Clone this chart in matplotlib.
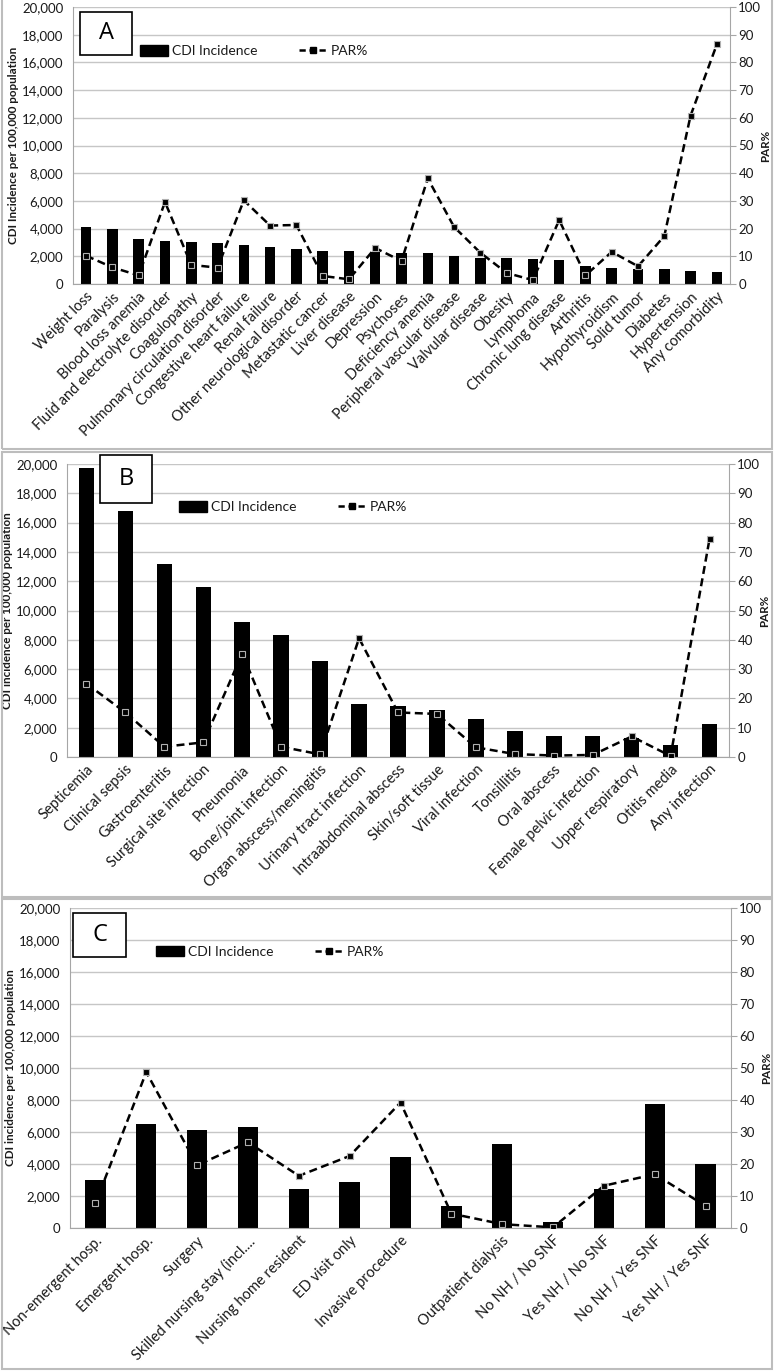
import matplotlib
matplotlib.use('Agg')
import matplotlib.pyplot as plt
from matplotlib.patches import Rectangle
from matplotlib.lines import Line2D
from matplotlib.ticker import FuncFormatter, MultipleLocator

plt.rcParams['font.family'] = ['Lato', 'DejaVu Sans']

# panel A: comorbidities
a_cats = ['Weight loss', 'Paralysis', 'Blood loss anemia', 'Fluid and electrolyte disorder',
          'Coagulopathy', 'Pulmonary circulation disorder', 'Congestive heart failure',
          'Renal failure', 'Other neurological disorder', 'Metastatic cancer', 'Liver disease',
          'Depression', 'Psychoses', 'Deficiency anemia', 'Peripheral vascular disease',
          'Valvular disease', 'Obesity', 'Lymphoma', 'Chronic lung disease', 'Arthritis',
          'Hypothyroidism', 'Solid tumor', 'Diabetes', 'Hypertension', 'Any comorbidity']
a_inc = [4100, 4000, 3250, 3100, 3000, 2950, 2800, 2700, 2500, 2350, 2350,
         2300, 2250, 2250, 2000, 1900, 1850, 1800, 1700, 1300, 1150, 1100, 1050, 950, 850]
a_par = [10.2, 6.0, 3.1, 29.6, 6.9, 5.9, 30.2, 21.1, 21.3, 2.9, 1.7,
         13.0, 8.3, 38.1, 20.6, 11.3, 4.0, 1.4, 23.1, 3.1, 11.6, 6.4, 17.3, 60.8, 86.5]

# panel B: infections
b_cats = ['Septicemia', 'Clinical sepsis', 'Gastroenteritis', 'Surgical site infection',
          'Pneumonia', 'Bone/joint infection', 'Organ abscess/meningitis',
          'Urinary tract infection', 'Intraabdominal abscess', 'Skin/soft tissue',
          'Viral infection', 'Tonsillitis', 'Oral abscess', 'Female pelvic infection',
          'Upper respiratory', 'Otitis media', 'Any infection']
b_inc = [19700, 16800, 13200, 11600, 9200, 8300, 6550, 3600, 3500, 3200,
         2600, 1800, 1450, 1450, 1300, 800, 2250]
b_par = [25.0, 15.2, 3.5, 5.0, 35.3, 3.5, 0.9, 40.5, 15.2, 14.7,
         3.3, 1.0, 0.5, 0.7, 7.0, 0.35, 74.4]

# panel C: healthcare exposures
c_cats = ['Non-emergent hosp.', 'Emergent hosp.', 'Surgery', 'Skilled nursing stay (incl....',
          'Nursing home resident', 'ED visit only', 'Invasive procedure', '',
          'Outpatient dialysis', 'No NH / No SNF', 'Yes NH / No SNF', 'No NH / Yes SNF',
          'Yes NH / Yes SNF']
c_inc = [3000, 6500, 6150, 6300, 2450, 2850, 4450, 1350, 5250, 400, 2450, 7750, 4000]
c_par = [7.7, 48.7, 19.6, 26.8, 16.3, 22.5, 39.2, 4.5, 1.2, 0.2, 13.2, 16.8, 6.9]

W, H = 774, 1371
GRID = '#c6c6c6'
AXC = '#a6a6a6'
TXT = '#1a1a1a'


def px(x0, y0, x1, y1):
    # pixel box (from top-left) -> figure rect
    return [x0 / W, (H - y1) / H, (x1 - x0) / W, (y1 - y0) / H]


def panel(fig, rect, cats, inc, par, letter, ylab, leg_xy, box):
    ax = fig.add_axes(rect)
    n = len(cats)
    x = list(range(n))
    ax.bar(x, inc, width=0.4, color='black', zorder=2)
    ax.set_xlim(-0.5, n - 0.5)
    ax.set_ylim(0, 20000)
    ax.yaxis.set_major_locator(MultipleLocator(2000))
    ax.yaxis.set_major_formatter(FuncFormatter(lambda v, p: f'{int(v):,}'))
    ax.grid(axis='y', color=GRID, lw=1.0, zorder=0)
    ax.set_axisbelow(True)
    ax.set_xticks(x)
    ax.set_xticklabels(cats, rotation=45, ha='right', rotation_mode='anchor',
                       fontsize=10.5, color=TXT)
    ax.tick_params(axis='x', length=0, pad=4)
    ax.tick_params(axis='y', length=0, pad=7, labelsize=9.5, labelcolor=TXT)
    for s in ['top', 'right']:
        ax.spines[s].set_visible(False)
    for s in ['left', 'bottom']:
        ax.spines[s].set_color(AXC)
    ax.set_ylabel(ylab, fontsize=8.4, fontweight='bold', color=TXT, labelpad=2)

    ax2 = ax.twinx()
    ax2.set_ylim(0, 100)
    ax2.yaxis.set_major_locator(MultipleLocator(10))
    ax2.plot(x, par, color='black', ls=(0, (3.2, 1.8)), lw=1.8, marker='s', ms=4.5,
             mfc='black', mec='#b0b0b0', mew=0.8, zorder=3)
    for s in ['top', 'left', 'bottom']:
        ax2.spines[s].set_visible(False)
    ax2.spines['right'].set_color(AXC)
    ax2.tick_params(axis='y', length=4, color=AXC, pad=2, labelsize=9.5, labelcolor=TXT)
    ax2.set_ylabel('PAR%', fontsize=8.4, fontweight='bold', color=TXT, labelpad=-1)

    handles = [Rectangle((0, 0), 1, 1, color='black'),
               Line2D([], [], color='black', ls=(0, (2.5, 1.5)), lw=1.8, marker='s', ms=4.5)]
    ax.legend(handles, ['CDI Incidence', 'PAR%'], ncol=2, frameon=False,
              loc='center left', bbox_to_anchor=leg_xy, borderpad=0, borderaxespad=0,
              handlelength=2.0, handleheight=0.8, handletextpad=0.3, columnspacing=3.0,
              fontsize=10, labelcolor=TXT)

    bx0, by0, bx1, by1 = box
    ax.add_patch(Rectangle((bx0, by0), bx1 - bx0, by1 - by0, transform=ax.transAxes,
                           facecolor='white', edgecolor='black', lw=1.2,
                           clip_on=False, zorder=5))
    ax.text((bx0 + bx1) / 2, (by0 + by1) / 2, letter, transform=ax.transAxes,
            ha='center', va='center', fontsize=17, color='black', zorder=6,
            family=['Open Sans', 'DejaVu Sans'])
    return ax


fig = plt.figure(figsize=(W / 100, H / 100), dpi=100)

# frames round the three panels
for r in [px(2, -2, 772, 449), px(2, 452, 772, 897), px(2, 899, 772, 1369)]:
    fig.add_artist(Rectangle((r[0], r[1]), r[2], r[3], transform=fig.transFigure,
                             fill=False, edgecolor='#bdbdbd', lw=1.5))

panel(fig, px(73, 7, 730, 284), a_cats, a_inc, a_par, 'A',
      'CDI Incidence per 100,000 population', (0.102, 0.84),
      (0.011, 0.827, 0.09, 0.982))
panel(fig, px(67, 464, 729, 757), b_cats, b_inc, b_par, 'B',
      'CDI incidence per 100,000 population', (0.169, 0.853),
      (0.05, 0.867, 0.128, 1.03))
panel(fig, px(70, 908, 731, 1228), c_cats, c_inc, c_par, 'C',
      'CDI incidence per 100,000 population', (0.13, 0.863),
      (0.005, 0.847, 0.085, 0.984))

fig.savefig('out.png', dpi=100)
